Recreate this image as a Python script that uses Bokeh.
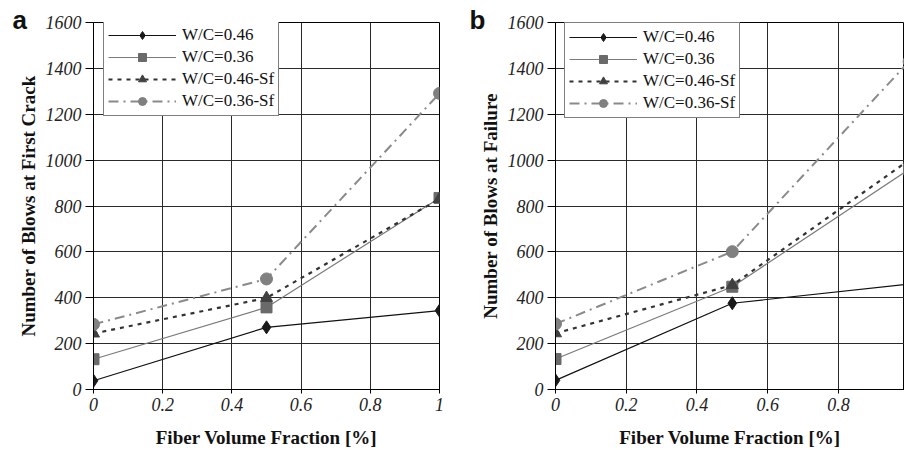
from bokeh.plotting import figure
from bokeh.layouts import row
from bokeh.models import FixedTicker, Legend, LegendItem, Label, Range1d
from bokeh.embed import file_html
from bokeh.resources import INLINE

fiber = [0, 0.5, 1.0]
labels = ["W/C=0.46", "W/C=0.36", "W/C=0.46-Sf", "W/C=0.36-Sf"]
first_crack = {
    "W/C=0.46": [38, 271, 344],
    "W/C=0.36": [132, 358, 835],
    "W/C=0.46-Sf": [244, 399, 831],
    "W/C=0.36-Sf": [284, 482, 1291],
}
failure = {
    "W/C=0.46": [40, 376, 460],
    "W/C=0.36": [133, 448, 960],
    "W/C=0.46-Sf": [245, 455, 1000],
    "W/C=0.36-Sf": [286, 601, 1430],
}
y_ticks = [0, 200, 400, 600, 800, 1000, 1200, 1400, 1600]
x_ticks = [0, 0.2, 0.4, 0.6, 0.8, 1.0]

styles = {
    "W/C=0.46": dict(lc="#111111", lw=1.2, dash="solid", marker="diamond", mc="#1a1a1a", ms=13),
    "W/C=0.36": dict(lc="#7a7a7a", lw=1.2, dash="solid", marker="square", mc="#6a6a6a", ms=11),
    "W/C=0.46-Sf": dict(lc="#333333", lw=2.2, dash="4 5", marker="triangle", mc="#404040", ms=12),
    "W/C=0.36-Sf": dict(lc="#8a8a8a", lw=2.0, dash="10 5 2 5", marker="circle", mc="#808080", ms=12),
}

SERIF = "Liberation Serif"


def make(data, ylabel, panel, panel_x, width, border_left, x_end, legend_xy, border_right):
    p = figure(width=width, height=450, output_backend="svg", toolbar_location=None,
               x_range=Range1d(0, x_end), y_range=Range1d(0, 1600),
               min_border_left=border_left, min_border_right=border_right,
               min_border_top=22, min_border_bottom=56)
    p.outline_line_color = "black"
    p.outline_line_width = 1
    p.background_fill_color = "white"
    p.border_fill_color = "white"
    for ax in (p.xaxis[0], p.yaxis[0]):
        ax.axis_line_color = "black"
        ax.major_tick_line_color = "black"
        ax.minor_tick_line_color = None
        ax.major_tick_in = 0
        ax.major_label_text_font = SERIF
        ax.major_label_text_font_style = "italic"
        ax.major_label_text_font_size = "18px"
        ax.major_label_text_color = "#222222"
        ax.axis_label_text_font = SERIF
        ax.axis_label_text_font_style = "bold"
        ax.axis_label_text_font_size = "19px"
        ax.axis_label_text_color = "#111111"
    p.xaxis.ticker = FixedTicker(ticks=x_ticks)
    p.xaxis.major_label_overrides = {0: "0", 1: "1"}
    p.xaxis.major_tick_out = 4
    p.xaxis.major_label_standoff = 4
    p.xaxis.axis_label_standoff = 13
    p.xaxis.axis_label = "Fiber Volume Fraction [%]"
    p.yaxis.ticker = FixedTicker(ticks=y_ticks)
    p.yaxis.major_tick_out = 8
    p.yaxis.major_label_standoff = 4
    p.yaxis.axis_label_standoff = 4
    p.yaxis.axis_label = ylabel
    p.xgrid.ticker = FixedTicker(ticks=x_ticks)
    p.ygrid.ticker = FixedTicker(ticks=y_ticks)
    for g in (p.xgrid[0], p.ygrid[0]):
        g.grid_line_color = "#2a2a2a"
        g.grid_line_width = 1

    items = []
    for lab in labels:
        s = styles[lab]
        r1 = p.line(fiber, data[lab], line_color=s["lc"], line_width=s["lw"], line_dash=s["dash"])
        r2 = p.scatter(fiber, data[lab], marker=s["marker"], size=s["ms"],
                       fill_color=s["mc"], line_color=s["mc"])
        items.append(LegendItem(label=lab, renderers=[r1, r2]))
    leg = Legend(items=items, location=legend_xy)
    leg.label_text_font = SERIF
    leg.label_text_font_size = "17px"
    leg.label_text_color = "#111111"
    leg.glyph_width = 68
    leg.glyph_height = 20
    leg.label_height = 20
    leg.spacing = 2
    leg.padding = 4
    leg.margin = 0
    leg.label_standoff = 6
    leg.border_line_color = "black"
    leg.border_line_width = 1
    leg.background_fill_color = "white"
    leg.background_fill_alpha = 1
    p.add_layout(leg, "center")

    p.add_layout(Label(x=panel_x, y=370, x_units="screen", y_units="screen", text=panel,
                       text_font="Liberation Sans", text_font_style="bold",
                       text_font_size="26px", text_color="#111111",
                       text_baseline="middle"), "left")
    return p


pa = make(first_crack, "Number of Blows at First Crack", "a", 12, 452, 89, 1.0, (10, 273), 13)
pb = make(failure, "Number of Blows at Failure", "b", 9, 452, 103, 0.987, (9, 271), 0)

layout = row(pa, pb)
open("out.html", "w").write(file_html(layout, INLINE))
